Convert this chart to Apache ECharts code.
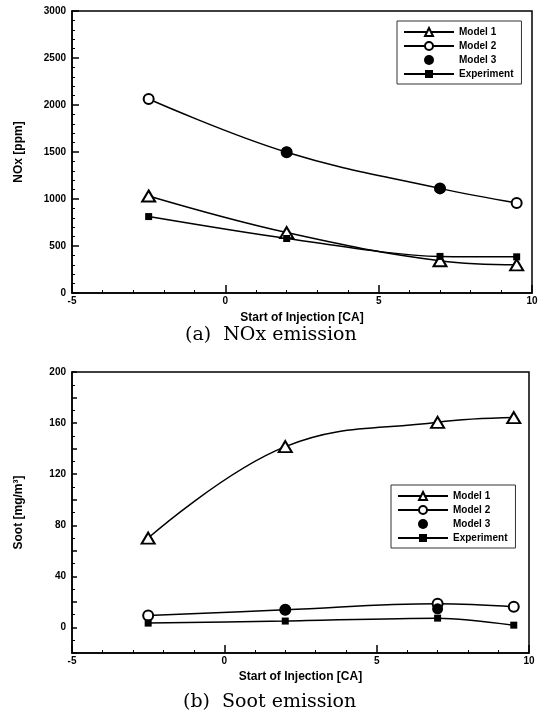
<!DOCTYPE html>
<html>
<head>
<meta charset="utf-8">
<script src="https://cdn.jsdelivr.net/npm/echarts@6/dist/echarts.min.js"></script>
<style>
  html, body { margin: 0; padding: 0; background: #fff; }
  #chart { width: 546px; height: 718px; }
</style>
</head>
<body>
<div id="chart"></div>
<script>
// injection timings (CA) shared by both panels
const SOI = [-2.5, 2, 7, 9.5];
const SOI_MODEL3 = [2, 7];

// (a) NOx [ppm]
const NOX_MODEL1 = [1032, 643, 343, 300];
const NOX_MODEL2 = [2064, 1498, 1113, 958];
const NOX_MODEL3 = [1500, 1113];
const NOX_EXP = [813, 580, 389, 385];

// (b) Soot [mg/m3]
const SOOT_MODEL1 = [70, 141.6, 160.6, 164.3];
const SOOT_MODEL2 = [9.4, 13.8, 18.5, 16.2];
const SOOT_MODEL3 = [13.8, 14.6];
const SOOT_EXP = [3.4, 5, 7.3, 1.8];

const SOOT_LABELS = [0, 40, 80, 120, 160, 200];
const NAMES = ["Model 1", "Model 2", "Model 3", "Experiment"];

const FONT = "Liberation Sans, Arial, sans-serif";

function pairs(xs, ys) {
  return xs.map((x, i) => [x, ys[i]]);
}

const plain = (v) => String(v);

function xAxisFor(gridIndex, gap) {
  return {
    type: "value",
    gridIndex,
    min: -5,
    max: 10,
    interval: 5,
    name: "Start of Injection [CA]",
    nameLocation: "middle",
    nameGap: gap,
    nameTextStyle: { fontFamily: FONT, fontWeight: "bold", fontSize: 12, color: "#000" },
    axisLine: { onZero: false, lineStyle: { color: "#000", width: 1.5 } },
    axisTick: { inside: true, length: 8, lineStyle: { color: "#000", width: 1.5 } },
    minorTick: { show: true, splitNumber: 5, length: 3, lineStyle: { color: "#000", width: 1 } },
    axisLabel: { fontFamily: FONT, fontWeight: "bold", fontSize: 10, color: "#000", margin: 3, formatter: plain },
    splitLine: { show: false },
  };
}

function yAxisFor(gridIndex, opts) {
  return Object.assign({
    type: "value",
    gridIndex,
    nameLocation: "middle",
    nameGap: 47,
    nameTextStyle: { fontFamily: FONT, fontWeight: "bold", fontSize: 12, color: "#000" },
    axisLine: { onZero: false, lineStyle: { color: "#000", width: 1.5 } },
    splitLine: { show: false },
  }, opts);
}

function seriesFor(idx, m1, m2, m3, exp) {
  const base = {
    xAxisIndex: idx,
    yAxisIndex: idx,
    lineStyle: { color: "#000", width: 1.5 },
    emphasis: { disabled: true },
    animation: false,
  };
  return [
    Object.assign({}, base, {
      name: NAMES[0], type: "line", smooth: 0.4, z: 3,
      symbol: "emptyTriangle", symbolSize: [13, 11],
      itemStyle: { color: "#000", borderWidth: 1.5, opacity: 1 },
      data: pairs(SOI, m1),
    }),
    Object.assign({}, base, {
      name: NAMES[1], type: "line", smooth: 0.4, z: 3,
      symbol: "emptyCircle", symbolSize: 10,
      itemStyle: { color: "#000", borderWidth: 1.5, opacity: 1 },
      data: pairs(SOI, m2),
    }),
    Object.assign({}, base, {
      name: NAMES[2], type: "scatter", z: 5,
      symbol: "circle", symbolSize: 11,
      itemStyle: { color: "#000", opacity: 1 },
      data: pairs(SOI_MODEL3, m3),
    }),
    Object.assign({}, base, {
      name: NAMES[3], type: "line", smooth: 0.3, z: 3,
      symbol: "rect", symbolSize: 7,
      itemStyle: { color: "#000", opacity: 1 },
      data: pairs(SOI, exp),
    }),
  ];
}

function legendFor(left, top) {
  return {
    orient: "vertical",
    left, top,
    data: NAMES,
    itemWidth: 50,
    itemHeight: 10,
    itemGap: 4,
    padding: [6, 8, 5, 6],
    borderColor: "#333",
    borderWidth: 1,
    backgroundColor: "#fff",
    selectedMode: false,
    textStyle: { fontFamily: FONT, fontWeight: "bold", fontSize: 10, color: "#000" },
  };
}

const chart = echarts.init(document.getElementById("chart"), null, { renderer: "canvas" });

chart.setOption({
  animation: false,
  backgroundColor: "#fff",
  grid: [
    { left: 72, right: 14, top: 11, bottom: 425, show: true, borderColor: "#000", borderWidth: 1.5 },
    { left: 72, right: 17, top: 372, bottom: 65, show: true, borderColor: "#000", borderWidth: 1.5 },
  ],
  xAxis: [xAxisFor(0, 19), xAxisFor(1, 18)],
  yAxis: [
    yAxisFor(0, {
      min: 0,
      max: 3000,
      interval: 500,
      name: "NOx [ppm]",
      axisTick: { inside: true, length: 7, lineStyle: { color: "#000", width: 1.5 } },
      minorTick: { show: true, splitNumber: 5, length: 3, lineStyle: { color: "#000", width: 1 } },
      axisLabel: { fontFamily: FONT, fontWeight: "bold", fontSize: 10, color: "#000", margin: 6, formatter: plain },
    }),
    yAxisFor(1, {
      min: -20,
      max: 200,
      interval: 20,
      name: "Soot [mg/m³]",
      axisTick: { inside: true, length: 5, lineStyle: { color: "#000", width: 1.5 } },
      minorTick: { show: true, splitNumber: 2, length: 3, lineStyle: { color: "#000", width: 1 } },
      axisLabel: {
        fontFamily: FONT, fontWeight: "bold", fontSize: 10, color: "#000", margin: 6,
        customValues: SOOT_LABELS, formatter: plain,
      },
    }),
  ],
  legend: [legendFor(397, 21), legendFor(391, 485)],
  graphic: [
    {
      type: "text", left: 185, top: 326,
      style: { text: "(a)  NOx emission", font: "19px 'DejaVu Serif', serif", fill: "#000" },
    },
    {
      type: "text", left: 183, top: 693,
      style: { text: "(b)  Soot emission", font: "19px 'DejaVu Serif', serif", fill: "#000" },
    },
  ],
  series: [
    ...seriesFor(0, NOX_MODEL1, NOX_MODEL2, NOX_MODEL3, NOX_EXP),
    ...seriesFor(1, SOOT_MODEL1, SOOT_MODEL2, SOOT_MODEL3, SOOT_EXP),
  ],
});
</script>
</body>
</html>
